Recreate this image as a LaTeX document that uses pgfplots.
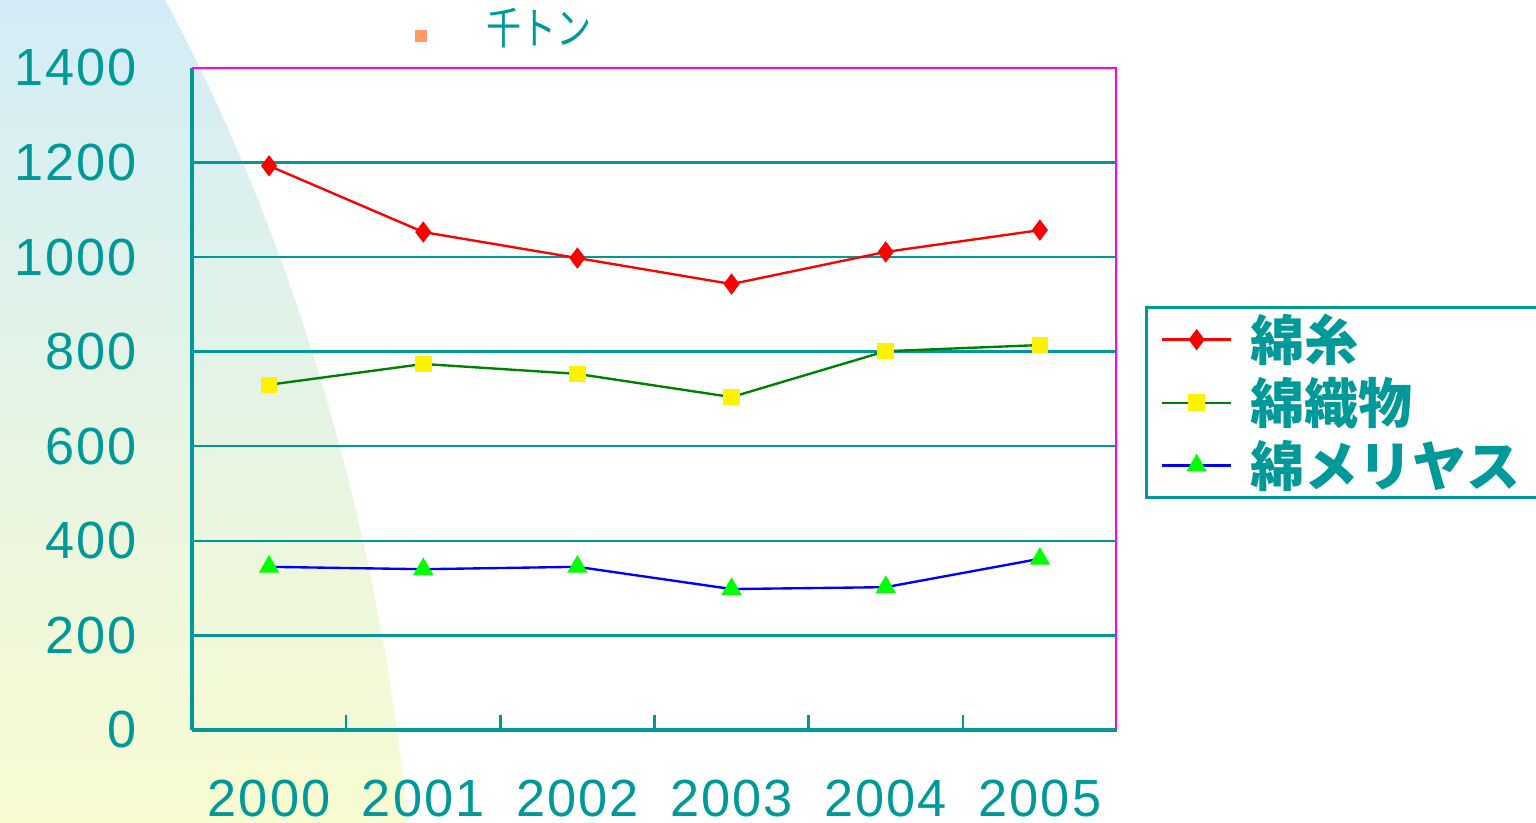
\documentclass[border=0pt]{standalone}
\usepackage{pgfplots}
\pgfplotsset{compat=1.18}
\usepackage{fontspec}
\setmainfont{Liberation Sans}
\newfontfamily\jp{Noto Sans CJK JP}
\newfontfamily\tickfont[LetterSpace=4]{Liberation Sans}
\definecolor{tl}{RGB}{0,153,153}
\definecolor{bgblue}{RGB}{210,236,248}
\definecolor{bgyellow}{RGB}{249,252,208}
\definecolor{mag}{RGB}{255,0,255}
\definecolor{orng}{RGB}{255,153,102}
\definecolor{dgreen}{RGB}{0,128,0}

\begin{document}
\begin{tikzpicture}
\useasboundingbox (0,0) rectangle (16,8.573);
% background swoosh
\begin{scope}
\clip (0,0) -- (0,8.573) -- (1.72,8.573) .. controls (3.10,6.00) and (3.96,2.98) .. (4.25,0) -- cycle;
\shade[top color=bgblue, bottom color=bgyellow] (-0.1,-0.1) rectangle (4.5,8.7);
\end{scope}
% unit label
\fill[orng] (4.32,8.135) rectangle (4.45,8.26);
\node[text=tl, font=\jp\fontsize{13}{13}\selectfont, xscale=0.8] at (5.615,8.28) {千トン};

\begin{axis}[
    at={(2cm,0.969cm)}, anchor=south west,
    scale only axis, width=9.635cm, height=6.896cm,
    xmin=-0.5, xmax=5.5, ymin=0, ymax=1400,
    xtick={0,...,5}, xticklabels={2000,2001,2002,2003,2004,2005},
    ytick={0,200,...,1400},
    minor xtick={0.5,1.5,2.5,3.5,4.5},
    major tick length=0pt, minor tick length=0.16cm, tick align=inside,
    minor tick style={tl, line width=0.7pt},
    ymajorgrids, grid style={tl, line width=0.7pt},
    axis x line*=bottom, axis y line*=left,
    axis line style={tl, line width=1pt, -},
    /pgf/number format/assume math mode=true,
    /pgf/number format/1000 sep={},
    tick label style={font=\tickfont\fontsize{15.5}{15.5}\selectfont, text=tl},
    xticklabel style={yshift=-0.40cm},
    yticklabel style={xshift=-0.45cm},
    legend style={at={(1.0303,0.641)}, anchor=north west, draw=tl, line width=0.9pt,
        font=\jp\bfseries\fontsize{16}{16}\selectfont, text=tl,
        row sep=-0.02cm, inner xsep=0.15cm, inner ysep=0.0cm,
        /tikz/every odd column/.append style={column sep=0.12cm},
        /tikz/every even column/.append style={text width=3.1cm}},
    legend cell align=left,
    legend image code/.code={\draw[mark repeat=2, mark phase=2]
        plot coordinates {(0cm,0cm) (0.36cm,0cm) (0.72cm,0cm)};},
]
\addplot[red, line width=0.7pt, mark=diamond*, mark size=2.6pt, mark options={fill=red, draw=red}]
  coordinates {(0,1193) (1,1053) (2,998) (3,943) (4,1011) (5,1057)};
\addplot[dgreen, line width=0.7pt, mark=square*, mark size=2.1pt, mark options={fill=yellow, draw=yellow}]
  coordinates {(0,730) (1,774) (2,753) (3,704) (4,801) (5,814)};
\addplot[blue, line width=0.7pt, mark=triangle*, mark size=2.8pt, mark options={fill=green, draw=green}]
  coordinates {(0,345) (1,340) (2,345) (3,298) (4,302) (5,362)};
\legend{綿糸, 綿織物, 綿メリヤス}
\draw[mag, line width=0.9pt] (rel axis cs:0,1) -- (rel axis cs:1,1) -- (rel axis cs:1,0);
\end{axis}
\end{tikzpicture}
\end{document}
